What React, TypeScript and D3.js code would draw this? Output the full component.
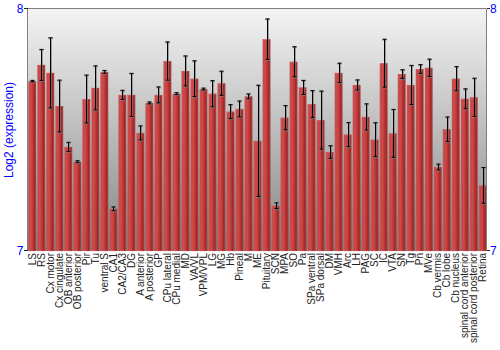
import React from "react";
import * as d3 from "d3";

const categories = ["LS","RS","Cx motor","Cx cingulate","OB anterior","OB posterior","Pir","Tu","ventral S","CA1","CA2/CA3","DG","A anterior","A posterior","GP","CPu lateral","CPu medial","MD","VA/VL","VPM/VPL","LG","MG","Hb","Pineal","M","ME","Pituitary","SCN","MPA","SO","Pa","SPa ventral","SPa dorsal","DM","VMH","Arc","LH","PAG","SC","IC","VTA","SN","Tg","Pn","MVe","Cb vermis","Cb lobe","Cb nucleus","spinal cord anterior","spinal cord posterior","Retina"];

const values = [7.702,7.769,7.736,7.599,7.430,7.369,7.628,7.674,7.740,7.174,7.645,7.645,7.488,7.612,7.645,7.785,7.650,7.744,7.712,7.669,7.650,7.693,7.576,7.587,7.639,7.455,7.875,7.187,7.551,7.782,7.676,7.607,7.541,7.409,7.736,7.481,7.686,7.554,7.460,7.776,7.486,7.731,7.686,7.752,7.757,7.347,7.503,7.712,7.629,7.635,7.271];

const errors = [0.003,0.064,0.145,0.107,0.019,0.004,0.099,0.091,0.006,0.008,0.019,0.089,0.029,0.004,0.033,0.079,0.004,0.062,0.074,0.004,0.054,0.050,0.029,0.033,0.010,0.230,0.084,0.012,0.050,0.062,0.029,0.056,0.120,0.026,0.040,0.050,0.021,0.054,0.070,0.099,0.099,0.018,0.081,0.018,0.036,0.012,0.051,0.050,0.041,0.079,0.074];

const yTicks = [7, 8];

const W = 500, H = 350;
const left = 28, right = 487, top = 9, bottom = 251;

export default function App() {
  const x = d3.scaleBand<string>().domain(categories).range([left, right]).paddingInner(0.15).paddingOuter(0.05);
  const y = d3.scaleLinear().domain([7, 8]).range([bottom, top]);
  const bw = x.bandwidth();
  const blue = "#0000ff";
  return (
    <svg width={W} height={H} style={{ position: "absolute", left: 0, top: 0 }} fontFamily="'Liberation Sans', Arial, sans-serif">
      <defs>
        <linearGradient id="bg" x1="0" y1="0" x2="0" y2="1">
          <stop offset="0" stopColor="#f4f4f4" />
          <stop offset="1" stopColor="#858585" />
        </linearGradient>
        <linearGradient id="bar" x1="0" y1="0" x2="1" y2="0">
          <stop offset="0" stopColor="#b83838" />
          <stop offset="0.3" stopColor="#d24c4c" />
          <stop offset="0.65" stopColor="#b83232" />
          <stop offset="1" stopColor="#801818" />
        </linearGradient>
      </defs>
      <rect x={left} y={top} width={right - left} height={bottom - top} fill="url(#bg)" />
      {categories.map((c, i) => {
        const x0 = x(c)!;
        return (
          <g key={c}>
            <rect x={x0} y={y(values[i])} width={bw} height={bottom - y(values[i])} fill="url(#bar)" />
            <rect x={x0 + 0.5} y={y(values[i]) + 0.5} width={bw - 1} height={bottom - y(values[i]) - 0.5} fill="none" stroke="#e08080" strokeOpacity={0.35} strokeWidth={1} />
          </g>
        );
      })}
      {categories.map((c, i) => {
        const cx = Math.round(x(c)! + bw / 2) + 0.5;
        const y1 = y(values[i] + errors[i]);
        const y2 = y(values[i] - errors[i]);
        return (
          <g key={"e" + c}>
            <line x1={cx + 0.5} x2={cx + 0.5} y1={y1} y2={y2} stroke="#777" strokeOpacity={0.6} strokeWidth={2} />
            <line x1={cx - 2.5} x2={cx + 2.5} y1={y1 + 0.5} y2={y1 + 0.5} stroke="#888" strokeOpacity={0.6} strokeWidth={2} />
            <line x1={cx - 2.5} x2={cx + 2.5} y1={y2 + 0.5} y2={y2 + 0.5} stroke="#888" strokeOpacity={0.6} strokeWidth={2} />
            <line x1={cx} x2={cx} y1={y1} y2={y2} stroke="#000" strokeWidth={1} />
            <line x1={cx - 2} x2={cx + 2} y1={y1} y2={y1} stroke="#000" strokeWidth={1} />
            <line x1={cx - 2} x2={cx + 2} y1={y2} y2={y2} stroke="#000" strokeWidth={1} />
          </g>
        );
      })}
      <line x1={left - 0.5} x2={left - 0.5} y1={top} y2={bottom} stroke="#808080" strokeWidth={1} />
      <line x1={right - 0.5} x2={right - 0.5} y1={top} y2={bottom} stroke="#808080" strokeWidth={1} />
      <line x1={left - 0.5} x2={right - 0.5} y1={top - 0.5} y2={top - 0.5} stroke="#808080" strokeWidth={1} />
      {yTicks.map((t) => (
        <g key={t}>
          <line x1={left - 4} x2={left} y1={Math.round(y(t)) - 0.5} y2={Math.round(y(t)) - 0.5} stroke="#222" />
          <line x1={right} x2={right + 3} y1={Math.round(y(t)) - 0.5} y2={Math.round(y(t)) - 0.5} stroke="#222" />
          <text x={left - 4.5} y={y(t)} dy="0.35em" textAnchor="end" fontSize={12} fill={blue}>{t}</text>
          <text x={right + 3} y={y(t)} dy="0.35em" textAnchor="start" fontSize={12} fill={blue}>{t}</text>
        </g>
      ))}
      <text transform={`translate(12.5,130) rotate(-90)`} textAnchor="middle" fontSize={12} fill={blue}>Log2 (expression)</text>
      {categories.map((c) => (
        <text key={"l" + c} transform={`translate(${x(c)! + bw / 2},${bottom + 2}) rotate(-90)`} dy="0.35em" textAnchor="end" fontSize={10} fill="#222">{c}</text>
      ))}
    </svg>
  );
}
